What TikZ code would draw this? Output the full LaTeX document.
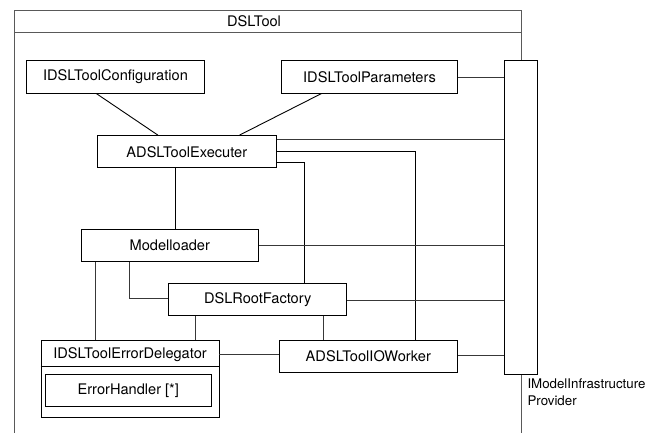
\documentclass[tikz,border=0pt]{standalone}
\usepackage{fontspec}
\setmainfont{TeX Gyre Heros}
\usetikzlibrary{calc}
\begin{document}
\begin{tikzpicture}[x=1pt,y=-1pt,
  every node/.style={font=\fontsize{14.6}{17}\selectfont},
  box/.style={draw=black,line width=0.9pt,fill=white,inner sep=0pt,minimum height=32.3pt},
  wire/.style={draw=black!78,line width=0.9pt},
  darkwire/.style={draw=black,line width=0.9pt},
  frame/.style={draw=black!65,line width=0.9pt}]
\useasboundingbox (0,0) rectangle (653,432);

% package frame, open at the bottom
\draw[frame] (14,440) -- (14,10) -- (521.5,10) -- (521.5,440);
\draw[frame] (14,32) -- (521.5,32);
\node (title) at (254,21) {DSLTool};

% classes
\node[box,minimum width=177.6pt] (cfg) at (115.5,76.9) {IDSLToolConfiguration};
\node[box,minimum width=175.6pt] (par) at (369.5,76.9) {IDSLToolParameters};
\node[box,minimum width=179pt]   (exec) at (186.8,151.7) {ADSLToolExecuter};
\node[box,minimum width=177pt]   (ml) at (169.8,245.2) {Modelloader};
\node[box,minimum width=178pt]   (rf) at (257.7,299.5) {DSLRootFactory};
\node[box,minimum width=178pt]   (io) at (368.3,356.4) {ADSLToolIOWorker};
\node[box,minimum width=178pt,minimum height=77.3pt] (ed) at (130,378.7) {};
\node (edlabel) at (130,355) {IDSLToolErrorDelegator};
\draw[draw=black,line width=0.9pt] (ed.west |- 0,366) -- (ed.east |- 0,366);
\node[box,minimum width=166pt] (eh) at (128.3,390.5) {ErrorHandler [*]};

% infrastructure provider bar
\node[box,minimum width=33.4pt,minimum height=314pt] (bar) at (521,217.3) {};
\node[anchor=north west,align=left,inner sep=0pt,font=\fontsize{13.3}{17}\selectfont]
  (barlabel) at (527.3,378.5) {IModelInfrastructure\\Provider};

% connector end points
\coordinate (parR)  at ($(par.east)+(0,0.8)$);
\coordinate (exR1)  at ($(exec.north east)+(0,4.6)$);
\coordinate (exR2)  at ($(exec.east)+(0,-0.7)$);
\coordinate (exR3)  at ($(exec.south east)+(0,-5.7)$);
\coordinate (exB)   at ($(exec.south west)+(78.4,0)$);
\coordinate (mlR)   at ($(ml.east)+(0,0.5)$);
\coordinate (mlB1)  at ($(ml.south west)+(14.7,0)$);
\coordinate (mlB2)  at ($(ml.south west)+(48.7,0)$);
\coordinate (rfR)   at ($(rf.east)+(0,1.2)$);
\coordinate (rfL)   at ($(rf.west)+(0,-1.2)$);
\coordinate (rfB1)  at ($(rf.south west)+(27,0)$);
\coordinate (rfB2)  at ($(rf.south west)+(154.8,0)$);
\coordinate (edR)   at ($(ed.north east)+(0,15.3)$);
\coordinate (ioR)   at ($(io.east)+(0,-0.7)$);

% connectors
\draw[darkwire] ($(cfg.south west)+(70,0)$) -- ($(exec.north west)+(61,0)$);
\draw[darkwire] ($(par.south west)+(40.3,0)$) -- ($(exec.north west)+(142.7,0)$);
\draw[wire] (parR) -- (parR -| bar.west);
\draw[wire] (exR1) -- (exR1 -| bar.west);
\draw[darkwire] (exR2) -| ($(io.north west)+(136.4,0)$);
\draw[darkwire] (exR3) -| ($(rf.north west)+(136.6,0)$);
\draw[darkwire] (exB) -- (exB |- ml.north);
\draw[wire] (mlR) -- (mlR -| bar.west);
\draw[wire] (mlB1) -- (mlB1 |- ed.north);
\draw[wire] (mlB2) |- (rfL);
\draw[wire] (rfR) -- (rfR -| bar.west);
\draw[wire] (rfB1) -- (rfB1 |- ed.north);
\draw[wire] (rfB2) -- (rfB2 |- io.north);
\draw[wire] (edR) -- (edR -| io.west);
\draw[wire] (ioR) -- (ioR -| bar.west);
\end{tikzpicture}
\end{document}
